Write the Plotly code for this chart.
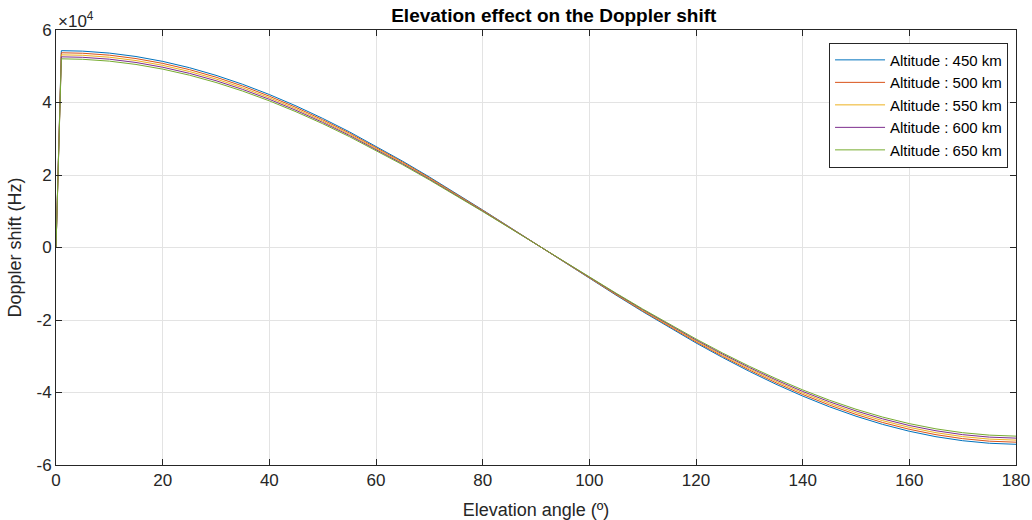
import plotly.graph_objects as go

elevation = [0, 1, 5, 10, 15, 20, 25, 30, 35, 40, 45, 50, 55, 60, 65, 70, 75, 80, 85, 90,
             95, 100, 105, 110, 115, 120, 125, 130, 135, 140, 145, 150, 155, 160, 165, 170, 175, 180]

doppler_450 = [0, 54300, 54170, 53630, 52690, 51340, 49610, 47490, 45020, 42200, 39060, 35620, 31920,
               27970, 23800, 19460, 14970, 10360, 5680, 950, -3790, -8490, -13140, -17680, -22090,
               -26330, -30360, -34170, -37720, -40980, -43930, -46540, -48800, -50690, -52200,
               -53300, -54000, -54290]
doppler_500 = [0, 53720, 53590, 53060, 52120, 50790, 49080, 46980, 44540, 41750, 38640, 35240, 31580,
               27670, 23550, 19250, 14810, 10250, 5620, 940, -3750, -8400, -13000, -17490, -21850,
               -26040, -30040, -33810, -37320, -40540, -43460, -46050, -48280, -50150, -51640,
               -52730, -53430, -53710]
doppler_550 = [0, 53150, 53020, 52500, 51570, 50250, 48560, 46490, 44060, 41310, 38230, 34870, 31240,
               27370, 23300, 19050, 14650, 10140, 5560, 930, -3710, -8310, -12860, -17300, -21620,
               -25770, -29720, -33450, -36920, -40110, -43000, -45560, -47770, -49620, -51090,
               -52170, -52860, -53140]
doppler_600 = [0, 52600, 52470, 51950, 51040, 49730, 48050, 46010, 43610, 40880, 37840, 34510, 30920,
               27090, 23060, 18850, 14500, 10040, 5500, 920, -3670, -8230, -12730, -17120, -21390,
               -25500, -29410, -33100, -36540, -39700, -42550, -45090, -47280, -49110, -50560,
               -51630, -52310, -52590]
doppler_650 = [0, 52050, 51920, 51410, 50500, 49210, 47550, 45520, 43150, 40450, 37440, 34150, 30590,
               26810, 22820, 18650, 14350, 9930, 5440, 910, -3630, -8140, -12590, -16950, -21170,
               -25230, -29110, -32760, -36160, -39280, -42110, -44620, -46780, -48590, -50030,
               -51090, -51760, -52040]

series_names = ["Altitude : 450 km", "Altitude : 500 km", "Altitude : 550 km",
                "Altitude : 600 km", "Altitude : 650 km"]
series_values = [doppler_450, doppler_500, doppler_550, doppler_600, doppler_650]
colors = ["#0072BD", "#D95319", "#EDB120", "#7E2F8E", "#77AC30"]

x_ticks = [0, 20, 40, 60, 80, 100, 120, 140, 160, 180]
y_ticks = [-60000, -40000, -20000, 0, 20000, 40000, 60000]
y_tick_labels = ["-6", "-4", "-2", "0", "2", "4", "6"]

fig = go.Figure()
for name, vals, col in zip(series_names, series_values, colors):
    fig.add_trace(go.Scatter(x=elevation, y=vals, mode="lines", name=name,
                             line=dict(color=col, width=1)))

font_family = "Liberation Sans, Arial, sans-serif"
axis_common = dict(
    showline=True, linecolor="#262626", linewidth=1, mirror="ticks",
    ticks="inside", ticklen=6, tickcolor="#262626", tickwidth=1,
    showgrid=True, gridcolor="#e3e3e3", gridwidth=1, zeroline=False,
    automargin=False,
    tickfont=dict(family=font_family, size=17, color="#262626"),
)

fig.update_layout(
    width=1032, height=520,
    margin=dict(l=56, r=16, t=30, b=55),
    paper_bgcolor="white", plot_bgcolor="white",
    title=dict(text="<b>Elevation effect on the Doppler shift</b>", x=0.5366, xanchor="center",
               y=0.971, yanchor="middle", automargin=False,
               font=dict(family=font_family, size=19, color="black")),
    xaxis=dict(range=[0, 180], tickvals=x_ticks, **axis_common,
               title=dict(text="Elevation angle (º)", standoff=14,
                          font=dict(family=font_family, size=18, color="#262626"))),
    yaxis=dict(range=[-60000, 60000], tickvals=y_ticks, ticktext=y_tick_labels, **axis_common,
               title=dict(text="Doppler shift (Hz)", standoff=10,
                          font=dict(family=font_family, size=18, color="#262626"))),
    legend=dict(x=0.9917, y=0.971, xanchor="right", yanchor="top",
                bgcolor="white", bordercolor="#262626", borderwidth=1,
                font=dict(family=font_family, size=15, color="black"),
                tracegroupgap=0, itemwidth=50),
    showlegend=True,
)

fig.add_annotation(text="×10<sup>4</sup>", xref="paper", yref="paper", x=0.0, y=1.0,
                   xanchor="left", yanchor="bottom", showarrow=False, yshift=-3,
                   font=dict(family=font_family, size=17, color="#262626"))

fig.write_html("out.html", config={"displayModeBar": False},
               post_script="document.body.style.margin='0';document.body.style.overflow='hidden';")
